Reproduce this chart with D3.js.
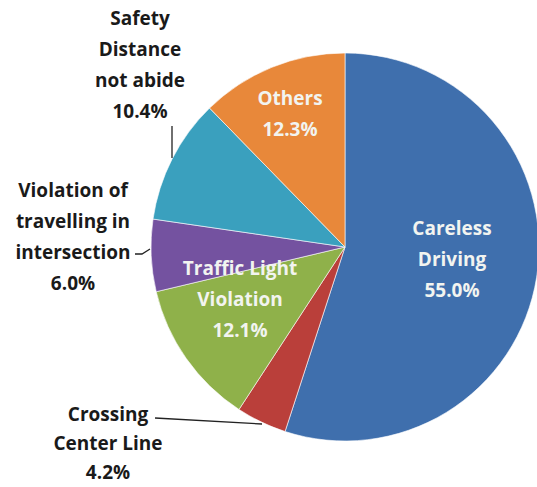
<!DOCTYPE html>
<html>
<head>
    <meta charset="utf-8">
    <title>Causes of Traffic Accidents</title>
</head>
<body style="margin:0;background:#fff">
<style>
    text {
        font-family: "Open Sans", "DejaVu Sans", sans-serif;
        font-weight: 700;
        font-size: 19px;
    }
</style>
<script src="https://d3js.org/d3.v7.min.js"></script>
<script>
    // slices, clockwise from 12 o'clock
    const categories = ['Careless Driving', 'Crossing Center Line', 'Traffic Light Violation',
        'Violation of travelling in intersection', 'Safety Distance not abide', 'Others'];
    const values = [55.0, 4.2, 12.1, 6.0, 10.4, 12.3];
    // how each label is broken into lines
    const labelLines = [
        ['Careless', 'Driving'],
        ['Crossing', 'Center Line'],
        ['Traffic Light', 'Violation'],
        ['Violation of', 'travelling in', 'intersection'],
        ['Safety', 'Distance', 'not abide'],
        ['Others']
    ];
    const colors = ['#3F6FAD', '#BA3F3A', '#8FB14A', '#7452A0', '#3AA0BE', '#E8883A'];

    const W = 537, H = 487;
    const CX = 345, CY = 247, R = 194;

    // label placement: inside slices (white) or outside with a leader (dark)
    const labelPos = [
        {x: 452, y: 228, lh: 31, inside: true},
        {x: 108, y: 414, lh: 29, inside: false, leader: [[155, 418], [262, 424]]},
        {x: 240, y: 268, lh: 31, inside: true},
        {x: 73, y: 190, lh: 31, inside: false, leader: [[135, 254], [142, 254], [150, 249]]},
        {x: 140, y: 18, lh: 31, inside: false, leader: [[172, 126], [172, 158]]},
        {x: 290, y: 98, lh: 31, inside: true}
    ];

    const svg = d3.select('body').append('svg')
        .attr('width', W)
        .attr('height', H);

    const data = categories.map((c, i) => ({name: c, value: values[i], lines: labelLines[i], pos: labelPos[i], color: colors[i]}));

    const pie = d3.pie().sort(null).value(d => d.value);
    const arc = d3.arc().innerRadius(0).outerRadius(R);

    const g = svg.append('g').attr('transform', `translate(${CX},${CY})`);

    g.selectAll('path')
        .data(pie(data))
        .join('path')
        .attr('d', arc)
        .attr('fill', d => d.data.color)
        .attr('stroke', '#fff')
        .attr('stroke-width', 0.6);

    // leader lines
    svg.selectAll('.leader')
        .data(data.filter(d => d.pos.leader))
        .join('path')
        .attr('class', 'leader')
        .attr('d', d => d3.line()(d.pos.leader))
        .attr('fill', 'none')
        .attr('stroke', '#222')
        .attr('stroke-width', 1.3);

    // labels
    const labels = svg.selectAll('.label')
        .data(data)
        .join('text')
        .attr('class', 'label')
        .attr('text-anchor', 'middle')
        .attr('fill', d => d.pos.inside ? '#F2F4F0' : '#1a1a1a');

    labels.each(function (d) {
        const t = d3.select(this);
        const lines = d.lines.concat([d.value.toFixed(1) + '%']);
        lines.forEach((ln, i) => {
            t.append('tspan')
                .attr('x', d.pos.x)
                .attr('y', d.pos.y + i * d.pos.lh)
                .attr('dy', '0.35em')
                .text(ln);
        });
    });
</script>
</body>
</html>
